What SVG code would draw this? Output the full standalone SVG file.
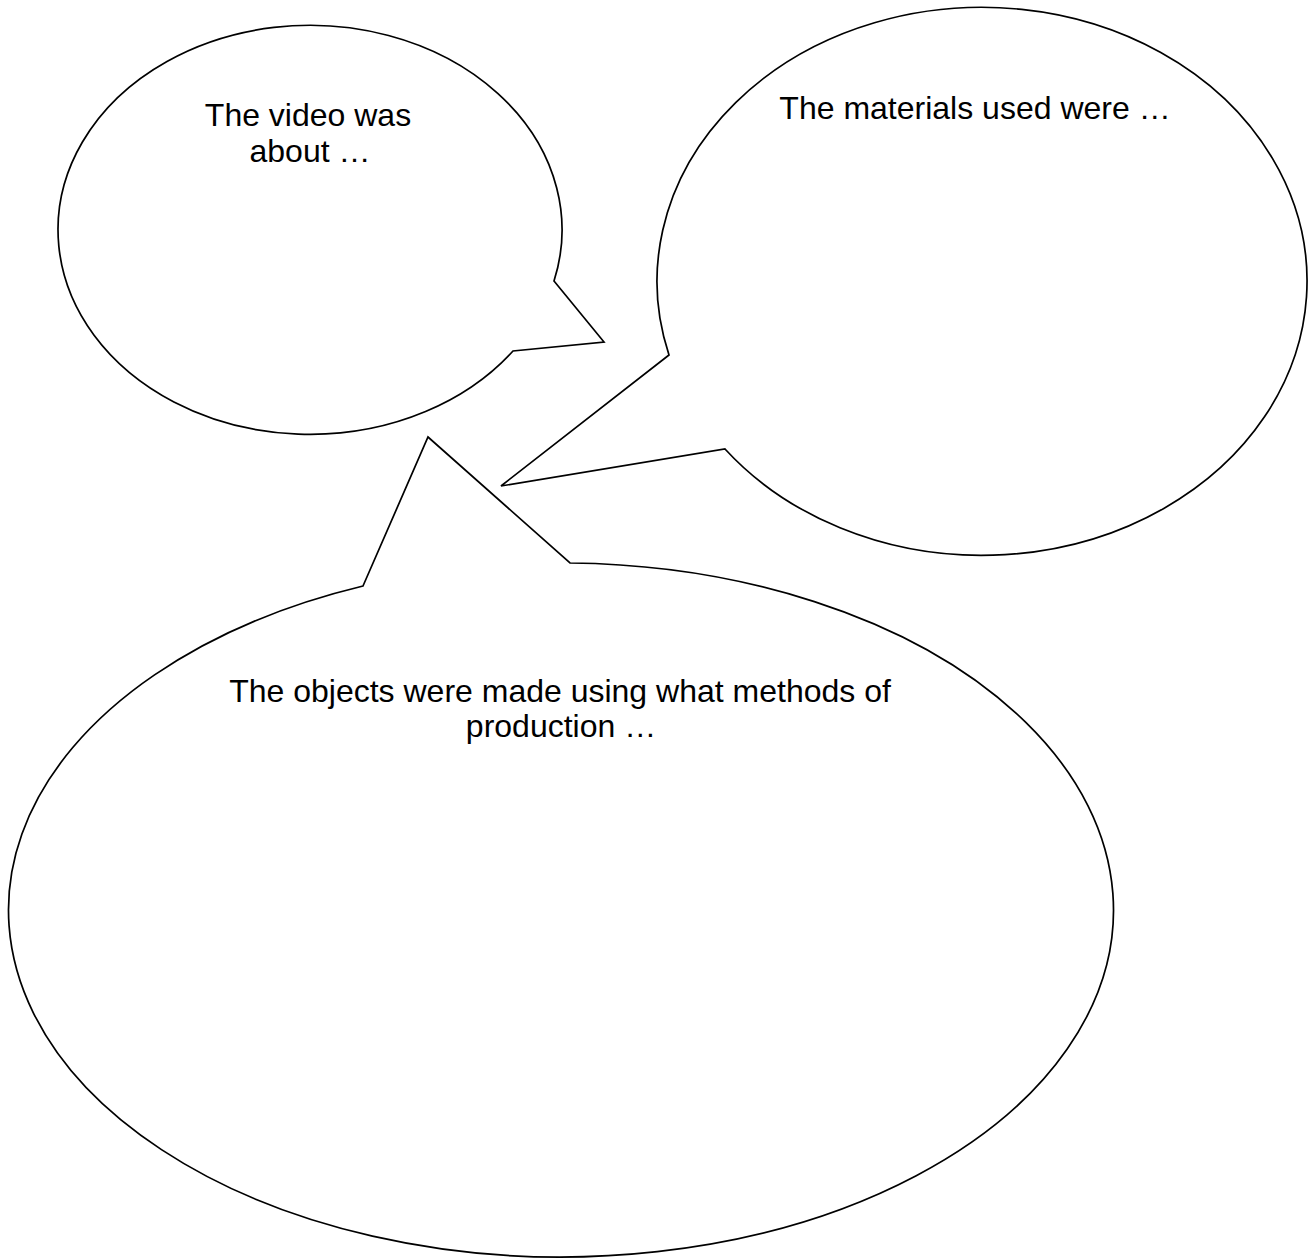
<svg xmlns="http://www.w3.org/2000/svg" width="1314" height="1258" viewBox="0 0 1314 1258">
  <style>
    .bubble { fill: #ffffff; stroke: #000000; stroke-width: 1.7; stroke-linejoin: miter; }
    .label { font-family: "Liberation Sans", Arial, sans-serif; font-size: 32px; fill: #000000; text-anchor: middle; }
  </style>
  <rect x="0" y="0" width="1314" height="1258" fill="#ffffff"/>
  <g id="bubble-video">
    <path class="bubble" d="M554,281 L604,342 L513,351 A252,204.5 0 1 1 554,281 Z"/>
    <text class="label" x="308" y="126">The video was</text>
    <text class="label" x="310" y="162">about …</text>
  </g>
  <g id="bubble-materials">
    <path class="bubble" d="M669,355 L501,486 L725,449 A325,274 0 1 0 669,355 Z"/>
    <text class="label" x="975" y="119">The materials used were …</text>
  </g>
  <g id="bubble-objects">
    <path class="bubble" d="M363,586 L428,437 L570,563 A552.5,347 0 1 1 363,586 Z"/>
    <text class="label" x="560" y="702">The objects were made using what methods of</text>
    <text class="label" x="561" y="737">production …</text>
  </g>
  <g id="connectors"></g>
</svg>
